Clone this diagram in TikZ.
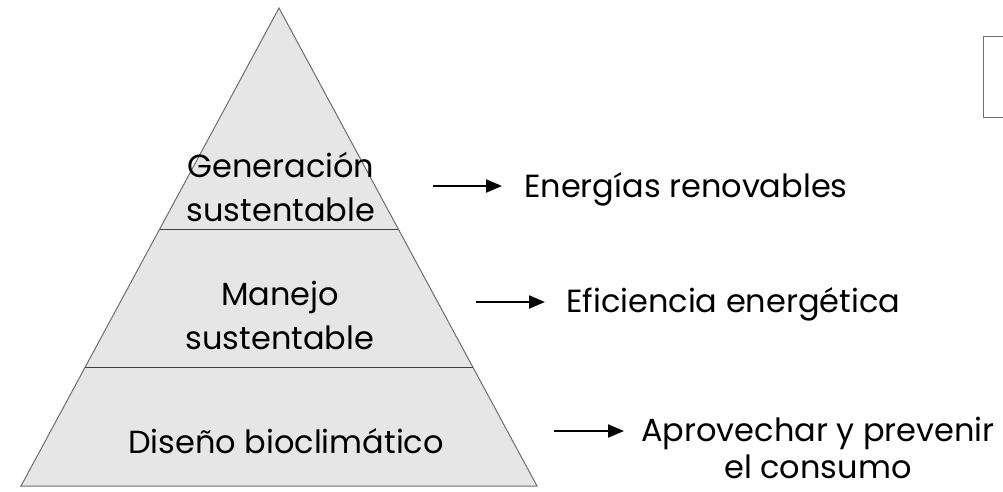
\documentclass[tikz,border=0pt]{standalone}
\usepackage{fontspec}
\setmainfont{Poppins}
\usetikzlibrary{arrows.meta}
\definecolor{pyrfill}{HTML}{E6E6E6}
\definecolor{pyredge}{HTML}{6E6E6E}
\definecolor{divline}{HTML}{404040}
\begin{document}
\begin{tikzpicture}[x=1pt,y=-1pt,
  lvl/.style={anchor=base,align=center,font=\fontsize{32}{44}\selectfont,inner sep=0pt},
  res/.style={anchor=base west,align=center,font=\fontsize{32}{37}\selectfont,inner sep=0pt},
  arr/.style={line width=2pt,-{Triangle[length=16pt,width=13pt]}}]
\useasboundingbox (0,0) rectangle (1003,491);
% pyramid
\coordinate (apex) at (279,8);
\coordinate (bl) at (21,486);
\coordinate (br) at (537,486);
\fill[pyrfill] (apex) -- (bl) -- (br) -- cycle;
\draw[pyredge,line width=1pt,line join=miter] (apex) -- (bl) -- (br) -- cycle;
\draw[divline,line width=1pt] (159.7,229) -- (398.3,229);
\draw[divline,line width=1pt] (85.2,367) -- (472.8,367);
% partial box at top right
\draw[pyredge,line width=1pt] (1010,36) -- (983,36) -- (983,117) -- (1010,117);
% level texts (base = baseline of last line)
\node[lvl] (gen) at (281,221) {Generación\\sustentable};
\node[lvl] (man) at (280,349) {Manejo\\sustentable};
\node[lvl] (dis) at (286,453) {Diseño bioclimático};
% result texts
\node[res] (er) at (524,197) {Energías renovables};
\node[res] (ee) at (566,312) {Eficiencia energética};
\node[res] (ap) at (641,478) {Aprovechar y prevenir\\el consumo};
% arrows
\coordinate (t1) at (433,186);
\coordinate (t2) at (476,302);
\coordinate (t3) at (554,431);
\draw[arr,shorten >=22pt] (t1) -- (t1 -| er.west);
\draw[arr,shorten >=21pt] (t2) -- (t2 -| ee.west);
\draw[arr,shorten >=17pt] (t3) -- (t3 -| ap.west);
\end{tikzpicture}
\end{document}
